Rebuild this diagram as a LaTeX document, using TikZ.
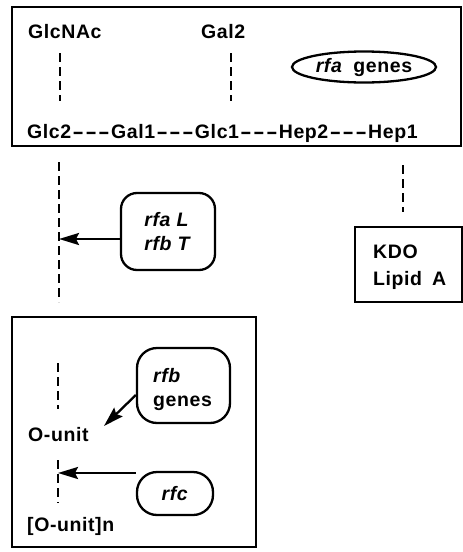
\documentclass[tikz,border=0pt]{standalone}
\usepackage{fontspec}
\usepackage{graphicx}
\setmainfont{Liberation Sans}[LetterSpace=3, Ligatures=NoCommon]
\usetikzlibrary{arrows.meta,shapes.geometric}
\newcommand{\hy}{\kern1.2pt\scalebox{1.8}[1]{-}}
\newcommand{\dgrp}{\hy\hy\hy\kern1.2pt}
\begin{document}
\begin{tikzpicture}[x=1pt,y=-1pt,
  font=\fontsize{19.5}{23.5}\selectfont\bfseries,
  box/.style={draw, line width=2.6pt},
  txt/.style={inner sep=0pt, anchor=base west},
  gene/.style={draw, line width=2.3pt, rounded corners=16pt, inner sep=0pt},
  dsh/.style={line width=2.6pt, dash pattern=on 9pt off 5pt},
  arr/.style={line width=2.3pt, -{Stealth[length=20pt,width=12pt,inset=3pt]}}]
\useasboundingbox (0,0) rectangle (463,552);
% top box
\draw[box] (12,7) rectangle (461,146);
\node[txt] (glcnac) at (28,38) {GlcNAc};
\node[txt] (gal2) at (201,38) {Gal2};
\coordinate (a1) at (60,53); \coordinate (a2) at (60,101);
\draw[dsh] (a1) -- (a2);
\coordinate (b1) at (231,53); \coordinate (b2) at (231,101);
\draw[dsh] (b1) -- (b2);
\node[draw, ellipse, line width=2.3pt, minimum width=144pt, minimum height=31pt, inner sep=0pt] (rfa) at (364,67) {\textit{rfa}\hspace{5pt} genes};
\node[txt] (chain) at (27,138) {Glc2\dgrp Gal1\dgrp Glc1\dgrp Hep2\dgrp Hep1};
% middle
\coordinate (c1) at (59,162); \coordinate (c2) at (59,302);
\draw[dsh] (c1) -- (c2);
\node[gene, minimum width=94pt, minimum height=77pt, align=left] (rfaL) at (168,231.5) {\textit{rfa L}\\\textit{rfb T}};
\coordinate (tL) at (59,239);
\draw[arr] (rfaL.west |- tL) -- (tL);
\coordinate (e1) at (403,165); \coordinate (e2) at (403,212);
\draw[dsh] (e1) -- (e2);
\draw[box] (355,227) rectangle (462,302);
\node[txt] (kdo) at (373,258) {KDO};
\node[txt] (lipid) at (373,285) {Lipid \hspace{4pt}A};
% bottom box
\draw[box] (12,317) rectangle (256,547);
\coordinate (f1) at (58,363); \coordinate (f2) at (58,409);
\draw[dsh] (f1) -- (f2);
\node[txt] (ounit) at (28,441) {O-unit};
\coordinate (g1) at (58,460); \coordinate (g2) at (58,503);
\draw[dsh] (g1) -- (g2);
\node[txt] (ounitn) at (27,531) {[O-unit]n};
\node[gene, minimum width=93pt, minimum height=75pt, rounded corners=20pt] (rfb) at (183.5,385.5) {};
\node[txt] (rfbt) at (153,382) {\textit{rfb}};
\node[txt] (genes) at (153,406) {genes};
\coordinate (tO) at (104,426);
\draw[arr] (rfb.west |- 0,395) -- (tO);
\node[gene, minimum width=76pt, minimum height=43pt, rounded corners=20pt] (rfc) at (175,493.5) {\textit{rfc}};
\coordinate (tC) at (58,473);
\draw[arr] (rfc.west |- tC) -- (tC);
\end{tikzpicture}
\end{document}
